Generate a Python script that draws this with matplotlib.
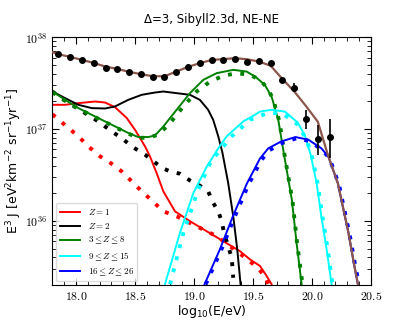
import numpy as np
import matplotlib
matplotlib.use("Agg")
import matplotlib.pyplot as plt
from matplotlib.ticker import MultipleLocator, LogLocator, FuncFormatter, NullFormatter

plt.rcParams['mathtext.fontset'] = 'cm'

# all curve values are log10(E^3 J)
# data points (x = log10(E/eV))
data_x = [17.85, 17.95, 18.05, 18.15, 18.25, 18.35, 18.45, 18.55, 18.65, 18.75,
          18.85, 18.95, 19.05, 19.15, 19.25, 19.35, 19.45, 19.55, 19.65, 19.75,
          19.85, 19.95, 20.05, 20.15]
data_y = [37.815, 37.786, 37.753, 37.720, 37.670, 37.659, 37.623, 37.598, 37.572, 37.572,
          37.626, 37.677, 37.720, 37.757, 37.757, 37.765, 37.735, 37.738, 37.717, 37.530,
          37.449, 37.112, 36.891, 36.909]
data_lo = [37.815, 37.786, 37.753, 37.720, 37.670, 37.659, 37.623, 37.598, 37.572, 37.572,
           37.626, 37.677, 37.720, 37.757, 37.757, 37.765, 37.735, 37.738, 37.717, 37.500,
           37.405, 37.006, 36.713, 36.685]
data_hi = [37.815, 37.786, 37.753, 37.720, 37.670, 37.659, 37.623, 37.598, 37.572, 37.572,
           37.626, 37.677, 37.720, 37.757, 37.757, 37.765, 37.735, 37.738, 37.717, 37.560,
           37.500, 37.210, 37.047, 37.109]

# total model (brown)
tot_x = [17.80, 17.85, 17.95, 18.05, 18.15, 18.25, 18.35, 18.45, 18.55, 18.65, 18.75,
         18.85, 18.95, 19.05, 19.15, 19.25, 19.35, 19.45, 19.55, 19.65, 19.75, 19.85,
         19.95, 20.05, 20.14, 20.22, 20.31, 20.36, 20.39]
tot_y = [37.837, 37.815, 37.786, 37.753, 37.720, 37.680, 37.655, 37.623, 37.598, 37.575, 37.575,
         37.626, 37.677, 37.718, 37.752, 37.762, 37.772, 37.760, 37.735, 37.690, 37.545, 37.410,
         37.250, 37.080, 36.700, 36.410, 35.870, 35.510, 35.310]

# Z = 1
p_x = [17.80, 17.907, 18.02, 18.161, 18.246, 18.33, 18.43, 18.50, 18.585, 18.627, 18.683,
       18.74, 18.839, 18.966, 19.108, 19.249, 19.39, 19.475, 19.559, 19.616, 19.658]
p_y = [37.264, 37.264, 37.282, 37.300, 37.289, 37.239, 37.120, 36.992, 36.811, 36.702, 36.522,
       36.322, 36.104, 35.996, 35.887, 35.778, 35.670, 35.580, 35.510, 35.400, 35.310]
p_xd = [17.80, 17.921, 18.02, 18.104, 18.204, 18.274, 18.387, 18.472, 18.557, 18.65, 18.74,
        18.853, 18.966, 19.079, 19.193, 19.305, 19.418, 19.531, 19.602, 19.63]
p_yd = [37.160, 37.028, 36.920, 36.811, 36.702, 36.648, 36.539, 36.430, 36.322, 36.213, 36.104,
        36.050, 35.978, 35.905, 35.833, 35.724, 35.615, 35.500, 35.398, 35.310]

# Z = 2
he_x = [17.80, 17.907, 18.02, 18.133, 18.246, 18.33, 18.443, 18.557, 18.67, 18.74, 18.853,
        18.966, 19.05, 19.12, 19.163, 19.206, 19.24, 19.29, 19.333, 19.367, 19.395]
he_y = [37.409, 37.337, 37.264, 37.228, 37.224, 37.246, 37.318, 37.373, 37.398, 37.409, 37.391,
        37.373, 37.318, 37.210, 37.100, 36.920, 36.750, 36.413, 36.050, 35.690, 35.310]
he_xd = [17.80, 17.853, 17.964, 18.076, 18.189, 18.302, 18.387, 18.472, 18.585, 18.73, 18.797,
         18.88, 18.966, 19.036, 19.12, 19.163, 19.206, 19.235, 19.255, 19.29, 19.32, 19.333]
he_yd = [37.409, 37.354, 37.264, 37.174, 37.083, 36.974, 36.902, 36.811, 36.721, 36.576, 36.539,
         36.514, 36.440, 36.395, 36.322, 36.196, 36.104, 35.996, 35.870, 35.724, 35.598, 35.380]

# 3 <= Z <= 8
cno_x = [17.80, 17.907, 18.02, 18.161, 18.303, 18.443, 18.528, 18.613, 18.67, 18.74, 18.853,
         18.966, 19.079, 19.193, 19.333, 19.447, 19.52, 19.60, 19.658, 19.715, 19.76, 19.83,
         19.87, 19.913]
cno_y = [37.409, 37.318, 37.228, 37.137, 37.047, 36.957, 36.913, 36.913, 36.930, 37.028, 37.210,
         37.391, 37.536, 37.609, 37.645, 37.626, 37.570, 37.482, 37.354, 37.100, 36.750, 36.230,
         35.760, 35.310]
cno_xd = [17.80, 17.907, 18.02, 18.161, 18.303, 18.443, 18.528, 18.613, 18.70, 18.797, 18.91,
          19.023, 19.136, 19.249, 19.362, 19.475, 19.559, 19.62, 19.67, 19.725, 19.765, 19.835,
          19.875, 19.92]
cno_yd = [37.400, 37.310, 37.220, 37.130, 37.040, 36.950, 36.905, 36.905, 36.940, 37.065, 37.246,
          37.409, 37.517, 37.580, 37.609, 37.590, 37.536, 37.450, 37.330, 37.080, 36.740, 36.220,
          35.750, 35.310]

# 9 <= Z <= 15
si_x = [18.754, 18.881, 18.994, 19.108, 19.206, 19.277, 19.418, 19.517, 19.559, 19.658, 19.771,
        19.88, 19.94, 19.99, 20.04, 20.08, 20.125, 20.167]
si_y = [35.310, 35.870, 36.300, 36.590, 36.790, 36.920, 37.083, 37.155, 37.190, 37.210, 37.190,
        37.070, 36.930, 36.720, 36.410, 36.050, 35.690, 35.310]
si_xd = [18.797, 18.91, 19.036, 19.15, 19.178, 19.32, 19.475, 19.63, 19.75, 19.87, 19.95,
         20.00, 20.05, 20.09, 20.135, 20.175]
si_yd = [35.310, 35.870, 36.340, 36.667, 36.700, 36.920, 37.100, 37.177, 37.170, 37.060, 36.900,
         36.700, 36.400, 36.040, 35.680, 35.310]

# 16 <= Z <= 26
fe_x = [19.09, 19.22, 19.33, 19.45, 19.56, 19.63, 19.74, 19.86, 19.97, 20.08, 20.14, 20.22,
        20.31, 20.36, 20.39]
fe_y = [35.310, 35.690, 36.050, 36.410, 36.680, 36.790, 36.865, 36.913, 36.884, 36.790, 36.700,
        36.410, 35.870, 35.510, 35.310]
fe_xd = [19.10, 19.23, 19.34, 19.46, 19.57, 19.64, 19.75, 19.87, 19.98, 20.09, 20.15, 20.23,
         20.32, 20.37, 20.40]
fe_yd = [35.310, 35.680, 36.030, 36.390, 36.660, 36.770, 36.850, 36.900, 36.870, 36.770, 36.680,
         36.390, 35.850, 35.490, 35.310]

fig = plt.figure(figsize=(4.13, 3.21), dpi=100)
ax = fig.add_axes([0.127, 0.112, 0.771, 0.772])

dot = (0, (1, 2.2))
lw = 1.4
dlw = 2.8

ax.plot(tot_x, 10**np.array(tot_y), c='tab:brown', lw=1.6, zorder=3)

curves = [(p_x, p_y, p_xd, p_yd, 'red', r'$Z=1$'),
          (he_x, he_y, he_xd, he_yd, 'black', r'$Z=2$'),
          (cno_x, cno_y, cno_xd, cno_yd, 'green', r'$3\leq Z\leq 8$'),
          (si_x, si_y, si_xd, si_yd, 'cyan', r'$9\leq Z\leq 15$'),
          (fe_x, fe_y, fe_xd, fe_yd, 'blue', r'$16\leq Z\leq 26$')]
for x, y, xd, yd, col, lab in curves:
    ax.plot(x, 10**np.array(y), c=col, lw=lw, label=lab, zorder=2)
    ax.plot(xd, 10**np.array(yd), c=col, lw=dlw, ls=dot, zorder=2)

dy = 10**np.array(data_y)
yerr = [dy - 10**np.array(data_lo), 10**np.array(data_hi) - dy]
ax.errorbar(data_x, dy, yerr=yerr, fmt='o', c='black', ms=4, elinewidth=1.2, capsize=0, zorder=4)

ax.set_yscale('log')
ax.set_xlim(17.8, 20.5)
ax.set_ylim(2e35, 1e38)

ax.xaxis.set_major_locator(MultipleLocator(0.5))
ax.xaxis.set_minor_locator(MultipleLocator(0.1))
ax.xaxis.set_major_formatter(FuncFormatter(lambda v, p: r'$%.1f$' % v))
ax.yaxis.set_major_locator(LogLocator(base=10))
ax.yaxis.set_minor_locator(LogLocator(base=10, subs=np.arange(2, 10)))
ax.yaxis.set_major_formatter(FuncFormatter(lambda v, p: r'$10^{%d}$' % round(np.log10(v))))
ax.yaxis.set_minor_formatter(NullFormatter())
ax.tick_params(which='both', direction='in', top=True, right=True, labelsize=8.5)
ax.tick_params(which='major', length=5)
ax.tick_params(which='minor', length=3)

ax.set_xlabel(r'log$_{10}$(E/eV)', fontsize=9, math_fontfamily='dejavusans', labelpad=0)
ax.set_ylabel(r'E$^3$ J [eV$^2$km$^{-2}$ sr$^{-1}$yr$^{-1}$]', fontsize=9,
              math_fontfamily='dejavusans', labelpad=1)
ax.set_title('Δ=3, Sibyll2.3d, NE-NE', fontsize=8.5, pad=10)

ax.legend(loc='lower left', fontsize=6.5, handlelength=2.3, borderaxespad=0.4,
          labelspacing=0.45, edgecolor='lightgray')

fig.savefig('out.png', dpi=100)
